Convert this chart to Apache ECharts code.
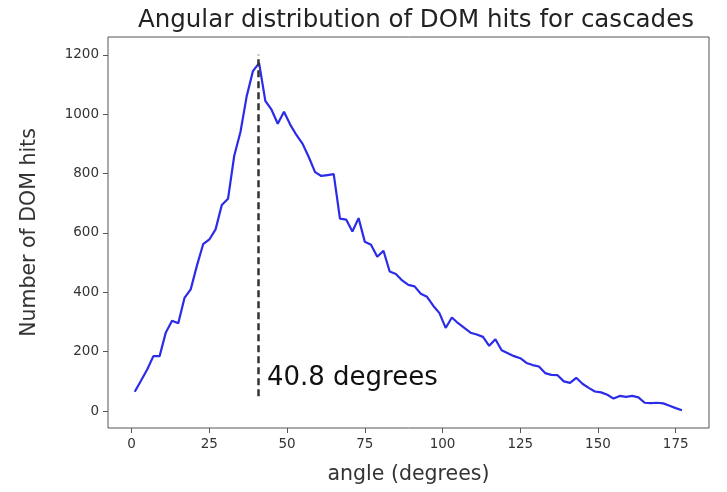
<!DOCTYPE html>
<html>
<head>
<meta charset="utf-8">
<script src="https://cdn.jsdelivr.net/npm/echarts@6/dist/echarts.min.js"></script>
<style>html,body{margin:0;padding:0;background:#fff}#c{width:727px;height:492px}</style>
</head>
<body>
<div id="c"></div>
<script>
var angles = [1,3,5,7,9,11,13,15,17,19,21,23,25,27,29,31,33,35,37,39,41,43,45,47,49,51,53,55,57,59,61,63,65,67,69,71,73,75,77,79,81,83,85,87,89,91,93,95,97,99,101,103,105,107,109,111,113,115,117,119,121,123,125,127,129,131,133,135,137,139,141,143,145,147,149,151,153,155,157,159,161,163,165,167,169,171,173,175,177];
var hits = [65,102,140,185,185,265,304,296,381,410,490,562,578,612,694,715,860,940,1060,1145,1172,1045,1015,968,1008,965,930,900,855,805,792,795,798,648,645,605,650,570,560,520,540,470,462,440,425,420,395,385,355,330,280,315,296,280,264,258,250,220,242,205,195,185,178,162,155,150,128,122,121,100,95,112,92,78,66,63,55,42,51,48,51,46,28,27,28,26,18,10,3];
var xTicks = [0,25,50,75,100,125,150,175];
var yTicks = [0,200,400,600,800,1000,1200];
var peakAngle = 40.8;
var peakLine = [50, 1200];
var peakText = '40.8 degrees';

var chart = echarts.init(document.getElementById('c'), null, {renderer: 'canvas'});
var data = angles.map(function (a, i) { return [a, hits[i]]; });
chart.setOption({
  animation: false,
  backgroundColor: '#fff',
  title: {
    text: 'Angular distribution of DOM hits for cascades',
    left: 411, top: 3, textAlign: 'center',
    textStyle: {fontFamily: 'DejaVu Sans', fontSize: 24.5, fontWeight: 'normal', color: '#222'}
  },
  grid: {left: 108, right: 18, top: 37, bottom: 64, show: true, borderColor: '#555', borderWidth: 1, containLabel: false},
  xAxis: {
    type: 'value', min: -7.6, max: 185.7,
    name: 'angle (degrees)', nameLocation: 'middle', nameGap: 36,
    nameTextStyle: {fontFamily: 'DejaVu Sans', fontSize: 20.5, color: '#333'},
    axisLine: {show: false, onZero: false},
    axisTick: {show: true, length: 5, customValues: xTicks, lineStyle: {color: '#555'}},
    axisLabel: {customValues: xTicks, fontFamily: 'DejaVu Sans', fontSize: 13.5, color: '#333', margin: 9},
    splitLine: {show: false}
  },
  yAxis: {
    type: 'value', min: -57, max: 1260,
    name: 'Number of DOM hits', nameLocation: 'middle', nameGap: 68,
    nameTextStyle: {fontFamily: 'DejaVu Sans', fontSize: 20.5, color: '#333'},
    axisLine: {show: false, onZero: false},
    axisTick: {show: true, length: 5, customValues: yTicks, lineStyle: {color: '#555'}},
    axisLabel: {customValues: yTicks, fontFamily: 'DejaVu Sans', fontSize: 13.5, color: '#333', margin: 9,
      formatter: function (v) { return String(v); }},
    splitLine: {show: false}
  },
  series: [{
    type: 'line',
    data: data,
    showSymbol: false,
    lineStyle: {color: '#2b2be8', width: 2.2},
    markLine: {
      silent: true, symbol: ['none', 'none'],
      lineStyle: {color: '#333', width: 2.5, type: [7, 4]},
      label: {show: false},
      data: [[{coord: [peakAngle, peakLine[0]]}, {coord: [peakAngle, peakLine[1]]}]]
    },
    markPoint: {
      symbol: 'rect', symbolSize: 0,
      label: {show: true, position: 'right', distance: 0, formatter: peakText,
        fontFamily: 'Comic Sans MS, cursive, DejaVu Sans', fontSize: 26, color: '#111'},
      data: [{coord: [43.5, 112]}]
    }
  }]
});
</script>
</body>
</html>
